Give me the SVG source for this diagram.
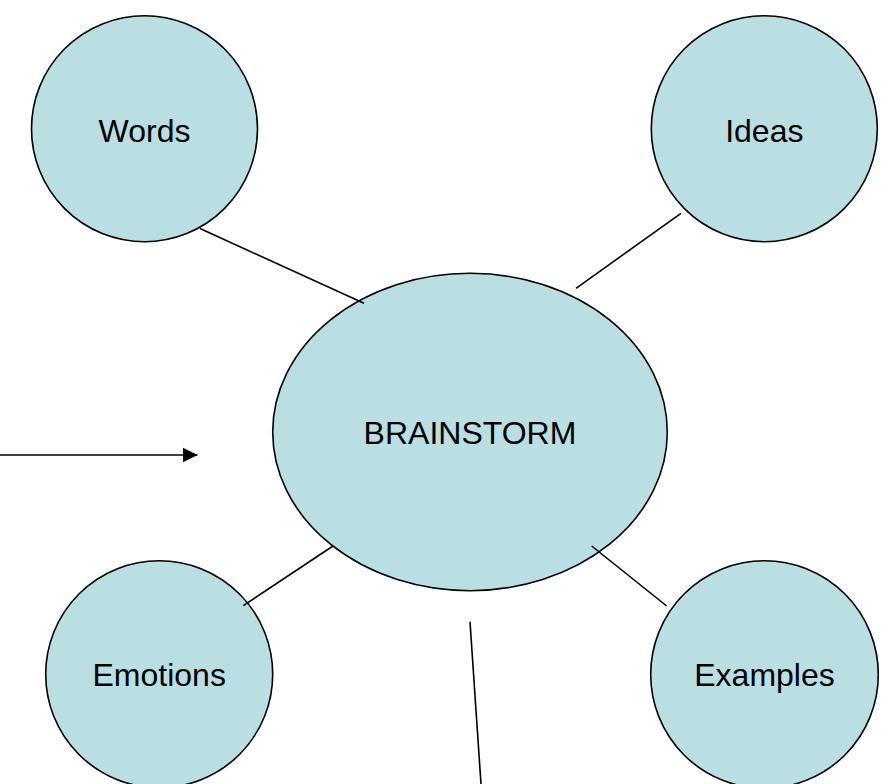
<svg xmlns="http://www.w3.org/2000/svg" width="893" height="784" viewBox="0 0 893 784">
<defs>
<style>
.node{fill:#B9DFE2;stroke:#000;stroke-width:1.6}
.lbl{font-family:"Liberation Sans",Arial,sans-serif;font-size:32px;fill:#000;text-anchor:middle}
.con{stroke:#000;stroke-width:1.6;fill:none}
</style>
<marker id="ah" markerWidth="16" markerHeight="16" refX="15" refY="8" orient="auto" markerUnits="userSpaceOnUse">
<path d="M0,0.5 L15,8 L0,15.5 Z" fill="#000"/>
</marker>
</defs>
<rect width="893" height="784" fill="#fff"/>
<g id="words"><circle class="node" cx="144.5" cy="128.7" r="113"/><text class="lbl" x="144.5" y="141.7">Words</text></g>
<g id="ideas"><circle class="node" cx="764.3" cy="128.7" r="113"/><text class="lbl" x="764.3" y="141.7">Ideas</text></g>
<g id="brainstorm"><ellipse class="node" cx="470" cy="432" rx="197.3" ry="158.7"/><text class="lbl" x="470" y="444">BRAINSTORM</text></g>
<g id="emotions"><circle class="node" cx="159.2" cy="674.2" r="113.5"/><text class="lbl" x="159.2" y="685.7">Emotions</text></g>
<g id="examples"><circle class="node" cx="764.5" cy="674.5" r="113.8"/><text class="lbl" x="764.5" y="685.7">Examples</text></g>
<g id="connectors">
<line class="con" x1="200" y1="228.5" x2="364" y2="303.3"/>
<line class="con" x1="681" y1="213.3" x2="576" y2="288.3"/>
<line class="con" x1="243.3" y1="605.7" x2="333" y2="546"/>
<line class="con" x1="591.7" y1="546" x2="666.7" y2="606"/>
<line class="con" x1="470" y1="621.7" x2="481" y2="784" stroke-width="2.4"/>
<line class="con" x1="0" y1="455" x2="197.5" y2="455" stroke-width="2.8" marker-end="url(#ah)"/>
</g>
</svg>
